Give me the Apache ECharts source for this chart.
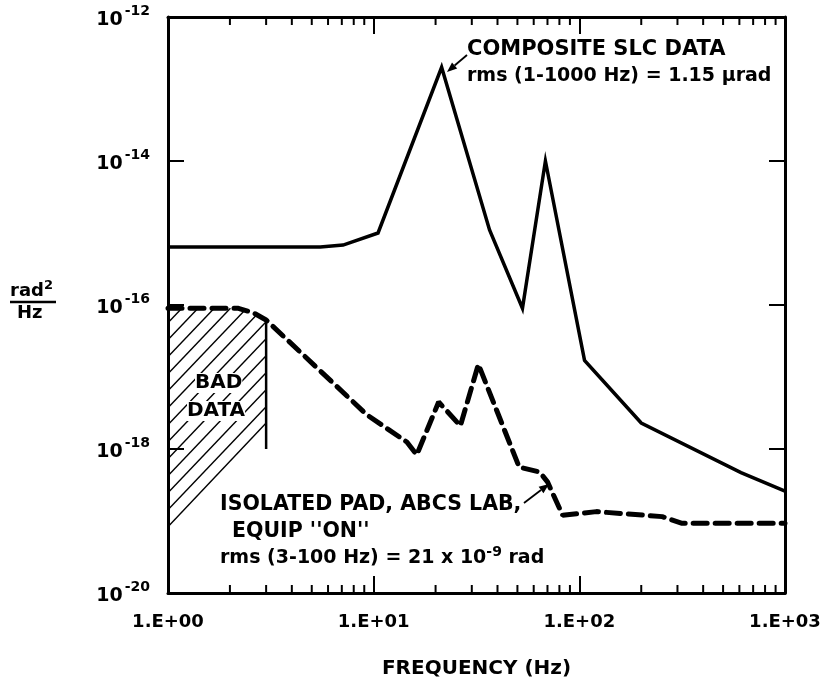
<!DOCTYPE html>
<html lang="en">
<head>
<meta charset="UTF-8">
<title>SLC spectrum</title>
<script src="https://cdn.jsdelivr.net/npm/echarts@6/dist/echarts.min.js"></script>
<style>
  html, body { margin: 0; padding: 0; background: #fff; }
  #chart_main { width: 825px; height: 688px; }
</style>
</head>
<body>
<div id="chart_main"></div>
<script>
// composite SLC data (solid line)
var slcFreq = [1, 5.5, 7.1, 10.5, 21.4, 36.6, 52.9, 68.4, 106, 200, 611, 1000];
var slcVal = [6.4e-16, 6.4e-16, 6.8e-16, 1.0e-15, 2.0e-13, 1.1e-15, 9.0e-17, 1.0e-14, 1.7e-17, 2.3e-18, 4.7e-19, 2.6e-19];

// isolated pad, equip on (dashed line)
var padFreq = [1, 2.2, 2.6, 3, 9.25, 11.1, 14.5, 16.2, 20.7, 26.4, 32.3, 51, 64, 70, 83, 121, 253, 316, 1000];
var padVal = [9e-17, 9e-17, 7.8e-17, 6.2e-17, 3e-18, 2.1e-18, 1.25e-18, 8.3e-19, 4.5e-18, 2.1e-18, 1.5e-17, 5.6e-19, 4.8e-19, 3.5e-19, 1.2e-19, 1.35e-19, 1.15e-19, 9.3e-20, 9.3e-20];

// hatched "bad data" region (outline, frequency / value)
var badFreq = [1, 2.2, 2.6, 3, 3, 1];
var badVal = [9e-17, 9e-17, 7.8e-17, 6.2e-17, 2.3e-18, 8.3e-20];
var badEdgeFreq = 3;
var badEdgeTop = 6.2e-17;
var badEdgeBottom = 1e-18;

// axes
var xMin = 1, xMax = 1000;
var yMin = 1e-20, yMax = 1e-12;
var xTickLabels = ['1.E+00', '1.E+01', '1.E+02', '1.E+03'];
var yTickExp = ['-20', '-18', '-16', '-14', '-12'];
var minorTickFreq = [2, 3, 4, 5, 6, 7, 8, 9, 20, 30, 40, 50, 60, 70, 80, 90, 200, 300, 400, 500, 600, 700, 800, 900];

var FONT = '"DejaVu Sans", sans-serif';

function pairs(xs, ys) {
  return xs.map(function(x, i) { return [x, ys[i]]; });
}

// diagonal hatching clipped to the bad-data outline
function renderHatch(params, api) {
  var pts = badFreq.map(function(f, i) { return api.coord([f, badVal[i]]); });
  var k = 1.05, step = 17;
  var cs = pts.map(function(p) { return p[1] + k * p[0]; });
  var cMax = Math.max.apply(null, cs);
  var cMin = Math.min.apply(null, cs);
  var children = [];
  for (var c = cMax - step; c > cMin; c -= step) {
    var hits = [];
    for (var i = 0; i < pts.length; i++) {
      var j = (i + 1) % pts.length;
      var ca = cs[i] - c, cb = cs[j] - c;
      if ((ca < 0) !== (cb < 0)) {
        var t = ca / (ca - cb);
        hits.push([pts[i][0] + t * (pts[j][0] - pts[i][0]), pts[i][1] + t * (pts[j][1] - pts[i][1])]);
      }
    }
    hits.sort(function(a, b) { return a[0] - b[0]; });
    for (var h = 0; h + 1 < hits.length; h += 2) {
      children.push({type: 'line', shape: {x1: hits[h][0], y1: hits[h][1], x2: hits[h + 1][0], y2: hits[h + 1][1]},
        style: {stroke: '#000', lineWidth: 1.4}});
    }
  }
  // lower edge of the hatching
  children.push({type: 'line', shape: {x1: pts[4][0], y1: pts[4][1], x2: pts[5][0], y2: pts[5][1]},
    style: {stroke: '#000', lineWidth: 1.4}});
  // vertical edge at 3 Hz
  var e1 = api.coord([badEdgeFreq, badEdgeTop]);
  var e2 = api.coord([badEdgeFreq, badEdgeBottom]);
  children.push({type: 'line', shape: {x1: e1[0], y1: e1[1], x2: e2[0], y2: e2[1]},
    style: {stroke: '#000', lineWidth: 2.5}});
  return {type: 'group', children: children};
}

// log minor ticks on bottom and top frame
function renderMinor(params, api) {
  var f = api.value(0);
  var b = api.coord([f, yMin]);
  var t = api.coord([f, yMax]);
  return {type: 'group', children: [
    {type: 'line', shape: {x1: b[0], y1: b[1], x2: b[0], y2: b[1] - 8}, style: {stroke: '#000', lineWidth: 2}},
    {type: 'line', shape: {x1: t[0], y1: t[1], x2: t[0], y2: t[1] + 8}, style: {stroke: '#000', lineWidth: 2}}
  ]};
}

function arrow(x1, y1, x2, y2) {
  var a = Math.atan2(y2 - y1, x2 - x1), len = 10, w = 4;
  var bx = x2 - len * Math.cos(a), by = y2 - len * Math.sin(a);
  return [
    {type: 'line', shape: {x1: x1, y1: y1, x2: bx, y2: by}, style: {stroke: '#000', lineWidth: 1.8}},
    {type: 'polygon', shape: {points: [[x2, y2],
      [bx + w * Math.sin(a), by - w * Math.cos(a)],
      [bx - w * Math.sin(a), by + w * Math.cos(a)]]}, style: {fill: '#000'}}
  ];
}

function label(x, y, text, size, extra) {
  var style = {text: text, x: x, y: y, font: 'bold ' + size + 'px ' + FONT, fill: '#000',
    align: 'left', verticalAlign: 'middle'};
  if (extra) for (var key in extra) style[key] = extra[key];
  return {type: 'text', style: style, z: 10};
}

var axisLineStyle = {color: '#000', width: 3};
var tickStyle = {color: '#000', width: 2};

var myChart = echarts.init(document.getElementById('chart_main'));
var option = {
  animation: false,
  backgroundColor: '#fff',
  grid: {left: 168, right: 40, top: 17, bottom: 95},
  xAxis: [{
    type: 'log', logBase: 10, min: xMin, max: xMax, position: 'bottom',
    axisLine: {lineStyle: axisLineStyle},
    axisTick: {inside: true, length: 17, lineStyle: tickStyle},
    axisLabel: {
      margin: 20, color: '#000', fontFamily: FONT, fontWeight: 'bold', fontSize: 18,
      formatter: function(v, i) { return xTickLabels[i]; }
    },
    splitLine: {show: false},
    name: 'FREQUENCY (Hz)', nameLocation: 'middle', nameGap: 66,
    nameTextStyle: {color: '#000', fontFamily: FONT, fontWeight: 'bold', fontSize: 20}
  }, {
    type: 'log', logBase: 10, min: xMin, max: xMax, position: 'top',
    axisLine: {lineStyle: axisLineStyle},
    axisTick: {inside: true, length: 17, lineStyle: tickStyle},
    axisLabel: {show: false},
    splitLine: {show: false}
  }],
  yAxis: [{
    type: 'log', logBase: 100, min: yMin, max: yMax, position: 'left',
    axisLine: {lineStyle: axisLineStyle},
    axisTick: {inside: true, length: 16, lineStyle: tickStyle},
    axisLabel: {
      margin: 18, color: '#000',
      formatter: function(v, i) { return '{b|10}{s|' + yTickExp[i] + '}'; },
      rich: {
        b: {fontFamily: FONT, fontWeight: 'bold', fontSize: 19, lineHeight: 26, verticalAlign: 'bottom', color: '#000'},
        s: {fontFamily: FONT, fontWeight: 'bold', fontSize: 14, verticalAlign: 'top', color: '#000', padding: [0, 0, 0, 2]}
      }
    },
    splitLine: {show: false}
  }, {
    type: 'log', logBase: 100, min: yMin, max: yMax, position: 'right',
    axisLine: {lineStyle: axisLineStyle},
    axisTick: {inside: true, length: 16, lineStyle: tickStyle},
    axisLabel: {show: false},
    splitLine: {show: false}
  }],
  series: [{
    name: 'bad data', type: 'custom', renderItem: renderHatch, z: 1,
    data: [[1, 1e-16]], silent: true
  }, {
    name: 'minor ticks', type: 'custom', renderItem: renderMinor, z: 3, clip: false,
    data: minorTickFreq.map(function(f) { return [f, yMin]; }), silent: true
  }, {
    name: 'COMPOSITE SLC DATA', type: 'line', z: 4,
    data: pairs(slcFreq, slcVal), showSymbol: false, symbol: 'none',
    lineStyle: {color: '#000', width: 3.5, join: 'miter'}
  }, {
    name: 'ISOLATED PAD', type: 'line', z: 4,
    data: pairs(padFreq, padVal), showSymbol: false, symbol: 'none',
    lineStyle: {color: '#000', width: 5, type: [14, 8], cap: 'round'}
  }],
  graphic: [].concat(
    [
      label(10, 291, 'rad{s|2}', 18, {rich: {s: {font: 'bold 13px ' + FONT, verticalAlign: 'top'}}, lineHeight: 24}),
      {type: 'line', shape: {x1: 10, y1: 302, x2: 56, y2: 302}, style: {stroke: '#000', lineWidth: 2.5}},
      label(17, 313, 'Hz', 18),
      label(467, 50, 'COMPOSITE SLC DATA', 21),
      label(467, 76, 'rms (1-1000 Hz) = 1.15 \u03bcrad', 19),
      label(195, 383, 'BAD', 20, {backgroundColor: '#fff'}),
      label(187, 411, 'DATA', 20, {backgroundColor: '#fff'}),
      label(220, 505, 'ISOLATED PAD, ABCS LAB,', 20.5),
      label(232, 532, "EQUIP ''ON''", 20.5),
      label(220, 558, 'rms (3-100 Hz) = 21 x 10{s|-9} rad', 19,
        {rich: {s: {font: 'bold 14px ' + FONT, verticalAlign: 'top'}}, lineHeight: 26})
    ],
    arrow(467, 55, 447, 72),
    arrow(524, 503, 549, 484)
  )
};
myChart.setOption(option);
</script>
</body>
</html>
